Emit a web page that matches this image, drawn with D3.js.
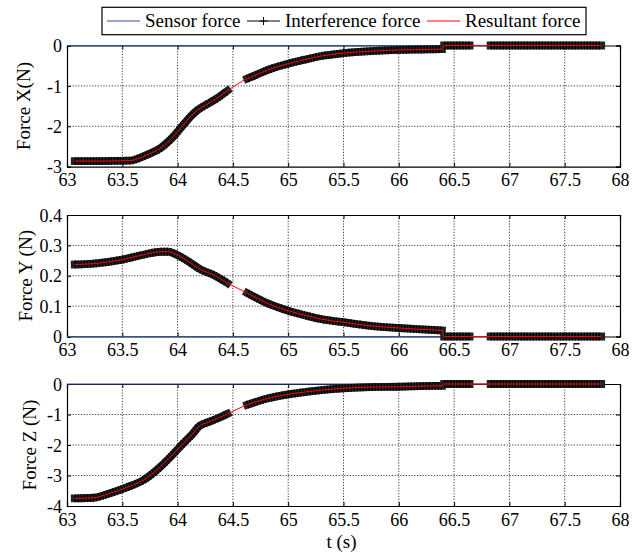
<!DOCTYPE html>
<html><head><meta charset="utf-8">
<script src="https://cdn.jsdelivr.net/npm/d3@7"></script>
<style>
body{margin:0;background:#fff}
text{font-family:"Liberation Serif","Times New Roman",serif;fill:#000}
</style>
</head><body>
<svg id="c" width="640" height="558"></svg>
<script>
// ---- data ----
const xTicks = [63, 63.5, 64, 64.5, 65, 65.5, 66, 66.5, 67, 67.5, 68];
const yTicksX = [0, -1, -2, -3];
const yTicksY = [0, 0.1, 0.2, 0.3, 0.4];
const yTicksZ = [0, -1, -2, -3, -4];

const timeX = [63.07, 63.3, 63.57, 63.65, 63.72, 63.84, 63.96, 64.05, 64.12, 64.18, 64.25, 64.35, 64.45, 64.63, 64.7, 64.82, 65.0, 65.15, 65.3, 65.5, 65.75, 66.0, 66.2, 66.39, 66.41, 66.64, 66.83, 67.83];
const forceX = [-2.86, -2.86, -2.85, -2.79, -2.71, -2.55, -2.26, -1.97, -1.75, -1.60, -1.48, -1.32, -1.12, -0.82, -0.74, -0.60, -0.45, -0.35, -0.26, -0.19, -0.14, -0.11, -0.10, -0.09, 0, 0, 0, 0];

const timeY = [63.07, 63.24, 63.5, 63.7, 63.85, 63.92, 63.97, 64.09, 64.21, 64.33, 64.45, 64.63, 64.82, 65.0, 65.15, 65.3, 65.5, 65.72, 66.0, 66.17, 66.39, 66.41, 66.64, 66.83, 67.83];
const forceY = [0.237, 0.240, 0.253, 0.270, 0.279, 0.279, 0.273, 0.249, 0.220, 0.202, 0.176, 0.143, 0.108, 0.085, 0.070, 0.057, 0.047, 0.036, 0.028, 0.024, 0.020, 0, 0, 0, 0];

const timeZ = [63.07, 63.24, 63.39, 63.54, 63.7, 63.84, 63.96, 64.05, 64.14, 64.19, 64.27, 64.36, 64.45, 64.63, 64.82, 65.0, 65.18, 65.3, 65.5, 65.75, 66.0, 66.2, 66.39, 66.41, 66.64, 66.83, 67.83];
const forceZ = [-3.75, -3.73, -3.58, -3.39, -3.13, -2.73, -2.30, -1.95, -1.62, -1.40, -1.26, -1.13, -0.98, -0.68, -0.47, -0.34, -0.25, -0.20, -0.14, -0.10, -0.09, -0.07, -0.06, 0, 0, 0, 0];

// interference force is recorded only in these time windows
const interferenceWindows = [[63.07, 64.45], [64.63, 66.39], [66.41, 66.64], [66.83, 67.83]];
// sensor force
const sensorTime = [63.0, 67.83];
const sensorForce = [0, 0];

const legendLabels = ["Sensor force", "Interference force", "Resultant force"];
const yLabels = ["Force X(N)", "Force Y (N)", "Force Z (N)"];
const xLabel = "t (s)";

// ---- layout ----
const svg = d3.select("#c");
const L = 67, R = 620;
const panels = [
  {top: 45.5, bottom: 166.7, dom: [-3, 0], ticks: yTicksX, t: timeX, v: forceX, label: yLabels[0], lx: 30},
  {top: 215, bottom: 336.5, dom: [0, 0.4], ticks: yTicksY, t: timeY, v: forceY, label: yLabels[1], lx: 31.5},
  {top: 384, bottom: 506, dom: [-4, 0], ticks: yTicksZ, t: timeZ, v: forceZ, label: yLabels[2], lx: 36}
];
const x = d3.scaleLinear().domain([63, 68]).range([L, R]);
const fmt = d => String(d);

panels.forEach(p => {
  const y = d3.scaleLinear().domain(p.dom).range([p.bottom, p.top]);
  const g = svg.append("g");
  // grid
  const grid = g.append("g").attr("class", "grid");
  grid.selectAll("line.gx").data(xTicks.slice(1, -1)).join("line")
    .attr("x1", d => x(d)).attr("x2", d => x(d)).attr("y1", p.top).attr("y2", p.bottom);
  grid.selectAll("line.gy").data(p.ticks.filter(d => d !== p.dom[0] && d !== p.dom[1])).join("line")
    .attr("class", "gy")
    .attr("x1", L).attr("x2", R).attr("y1", d => y(d)).attr("y2", d => y(d));
  grid.selectAll("line").attr("stroke", "#000").attr("stroke-width", 0.9)
    .attr("stroke-dasharray", "1.2,1.6").attr("opacity", 0.85);

  // axes
  const ax = g.append("g").attr("transform", `translate(0,${p.bottom})`)
    .call(d3.axisBottom(x).tickValues(xTicks).tickFormat(fmt).tickSize(-4).tickPadding(7));
  const axt = g.append("g").attr("transform", `translate(0,${p.top})`)
    .call(d3.axisTop(x).tickValues(xTicks).tickFormat("").tickSize(-4));
  const ay = g.append("g").attr("transform", `translate(${L},0)`)
    .call(d3.axisLeft(y).tickValues(p.ticks).tickFormat(fmt).tickSize(-4).tickPadding(5));
  const ayr = g.append("g").attr("transform", `translate(${R},0)`)
    .call(d3.axisRight(y).tickValues(p.ticks).tickFormat("").tickSize(-4));
  [ax, axt, ay, ayr].forEach(a => {
    a.attr("font-family", null);
    a.select(".domain").attr("stroke", "#000").attr("stroke-width", 1.2);
    a.selectAll(".tick line").attr("stroke", "#000");
    a.selectAll("text").attr("font-size", 18);
  });
  ay.selectAll("text").attr("dy", "0.34em");

  // y label
  svg.append("text").attr("transform", `translate(${p.lx},${(p.top + p.bottom) / 2}) rotate(-90)`)
    .attr("text-anchor", "middle").attr("font-size", 19).text(p.label);

  const data = p.t.map((t, i) => ({t, v: p.v[i]}));
  const line = d3.line().x(d => x(d.t)).y(d => y(d.v)).curve(d3.curveMonotoneX);

  // sensor force
  const sens = sensorTime.map((t, i) => ({t, v: sensorForce[i]}));
  g.append("path").attr("d", d3.line().x(d => x(d.t)).y(d => y(d.v))(sens))
    .attr("fill", "none").attr("stroke", "#2f4f9f").attr("stroke-width", 1.2);

  // interference force segments (dense '+' markers form a dark band)
  interferenceWindows.forEach(([a, b]) => {
    const seg = data.filter(d => d.t >= a - 1e-9 && d.t <= b + 1e-9);
    g.append("path").attr("d", line(seg)).attr("fill", "none")
      .attr("stroke", "#222").attr("stroke-width", 7.8).attr("stroke-linecap", "square").attr("stroke-linejoin", "round");
    g.append("path").attr("d", line(seg)).attr("fill", "none")
      .attr("stroke", "#000").attr("stroke-width", 7.8).attr("stroke-dasharray", "1.4,1.6");
  });

  // resultant force
  g.append("path").attr("d", line(data)).attr("fill", "none")
    .attr("stroke", "#ff0000").attr("stroke-width", 1);
});

// x label
svg.append("text").attr("x", 341.5).attr("y", 548).attr("text-anchor", "middle")
  .attr("font-size", 19).text(xLabel);

// legend
const lg = svg.append("g");
lg.append("rect").attr("x", 102).attr("y", 7.3).attr("width", 484).attr("height", 27.4)
  .attr("fill", "#fff").attr("stroke", "#000").attr("stroke-width", 1.2);
const items = [
  {x1: 107, x2: 140, tx: 145, color: "#2f4f9f", marker: false},
  {x1: 247, x2: 280, tx: 285, color: "#000", marker: true},
  {x1: 427, x2: 460, tx: 465, color: "#ff0000", marker: false}
];
items.forEach((it, i) => {
  lg.append("line").attr("x1", it.x1).attr("x2", it.x2).attr("y1", 21).attr("y2", 21)
    .attr("stroke", it.color).attr("stroke-width", 1);
  if (it.marker) {
    const cx = (it.x1 + it.x2) / 2;
    lg.append("path").attr("d", `M${cx - 4},21H${cx + 4}M${cx},17V25`).attr("stroke", "#000").attr("stroke-width", 1);
  }
  lg.append("text").attr("x", it.tx).attr("y", 27).attr("font-size", 19).text(legendLabels[i]);
});
</script>
</body></html>
